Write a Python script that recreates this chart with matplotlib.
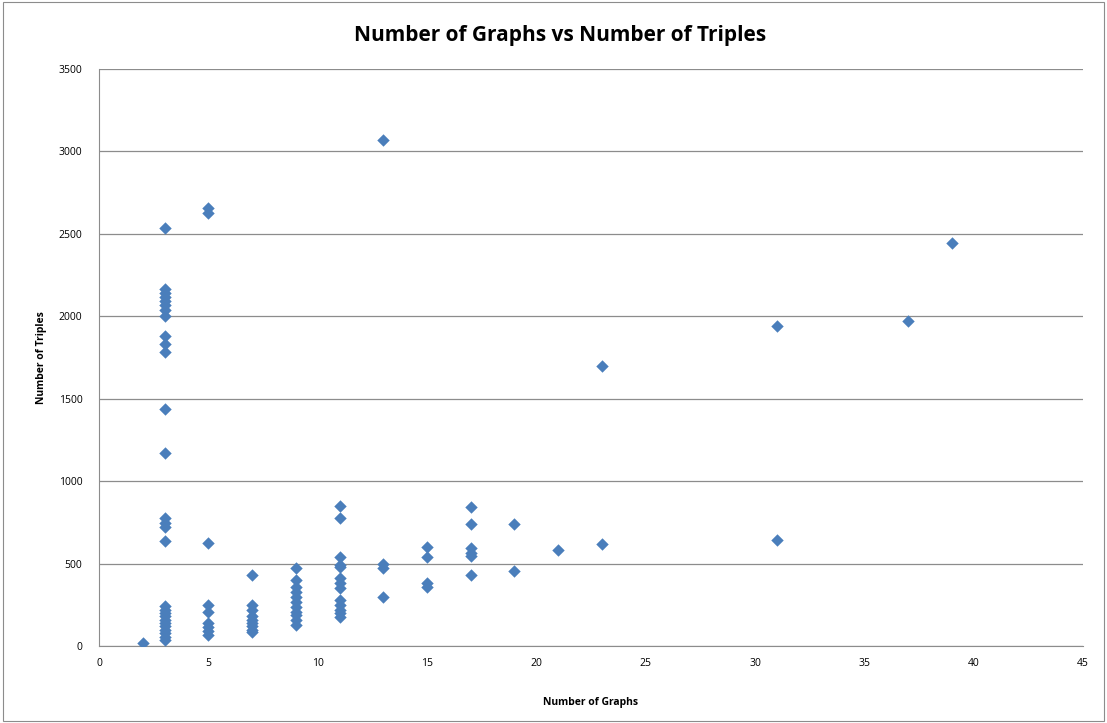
import matplotlib
matplotlib.use("Agg")
import matplotlib.pyplot as plt

graphs_x = ([2] +
            [3]*28 +
            [5]*9 +
            [7]*9 +
            [9]*11 +
            [11]*13 +
            [13]*4 +
            [15]*4 +
            [17]*6 +
            [19]*2 +
            [21] +
            [23]*2 +
            [31]*2 +
            [37] +
            [39])
triples_y = ([20] +
             [2535, 2165, 2140, 2115, 2090, 2068, 2040, 2000, 1880, 1830, 1785, 1438, 1170,
              775, 748, 724, 637,
              240, 220, 200, 180, 160, 140, 120, 100, 80, 55, 35] +
             [2655, 2625, 623, 250, 208, 138, 117, 90, 65] +
             [431, 250, 220, 180, 160, 140, 120, 100, 85] +
             [475, 400, 360, 330, 299, 269, 239, 208, 188, 158, 130] +
             [851, 774, 542, 491, 479, 410, 380, 350, 279, 249, 218, 198, 178] +
             [3070, 500, 475, 299] +
             [602, 538, 385, 360] +
             [845, 740, 597, 566, 546, 431] +
             [740, 457] +
             [585] +
             [1700, 620] +
             [1940, 640] +
             [1970] +
             [2445])

title = "Number of Graphs vs Number of Triples"
xlabel = "Number of Graphs"
ylabel = "Number of Triples"

plt.rcParams['font.family'] = ['Open Sans', 'DejaVu Sans']

fig = plt.figure(figsize=(11.07, 7.23), dpi=100)
ax = fig.add_axes([99/1107, 1-646/723, (1083-99)/1107, (646-69)/723])

ax.scatter(graphs_x, triples_y, marker='D', s=40, color='#4A7EBB', zorder=3, linewidths=0)

ax.set_xlim(0, 45)
ax.set_ylim(0, 3500)
ax.set_xticks(range(0, 46, 5))
ax.set_yticks(range(0, 3501, 500))
ax.yaxis.grid(True, color='#8c8c8c', linewidth=0.9)
ax.set_axisbelow(True)
for s in ['top', 'right']:
    ax.spines[s].set_visible(False)
for s in ['left', 'bottom']:
    ax.spines[s].set_color('#8c8c8c')
ax.tick_params(length=0, labelsize=7.5, colors='black', pad=9)
ax.tick_params(axis='y', pad=12)

ax.set_xlabel(xlabel, fontsize=7.5, fontweight='bold', labelpad=20)
ax.set_ylabel(ylabel, fontsize=7.5, fontweight='bold', labelpad=8)
fig.text(0.506, 1-35/723, title, ha='center', va='center', fontsize=15, fontweight='bold')

border = plt.Rectangle((0.003, 0.003), 0.994, 0.994, transform=fig.transFigure,
                       fill=False, edgecolor='#8c8c8c', linewidth=0.8)
fig.patches.append(border)

fig.savefig("out.png", dpi=100)
